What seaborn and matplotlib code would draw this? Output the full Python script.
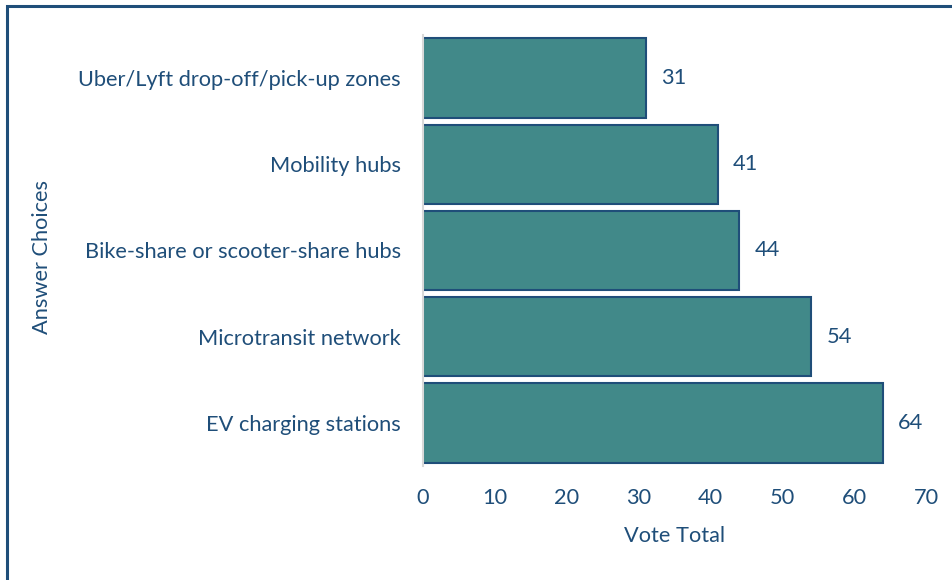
import pandas as pd
import matplotlib.pyplot as plt
import matplotlib.patches as mpatches
import seaborn as sns

# -- data --
choices = [
    'Uber/Lyft drop-off/pick-up zones',
    'Mobility hubs',
    'Bike-share or scooter-share hubs',
    'Microtransit network',
    'EV charging stations',
]
votes = [31, 41, 44, 54, 64]
x_ticks = [0, 10, 20, 30, 40, 50, 60, 70]

df = pd.DataFrame({'choice': choices, 'votes': votes})

text_col = '#1F4E79'
bar_col = '#418989'
fs = 15.7

sns.set_style('white')
plt.rcParams['font.family'] = ['Lato', 'DejaVu Sans']

fig = plt.figure(figsize=(9.52, 5.8), dpi=100)
ax = fig.add_axes([0.4443, 0.1966, 0.5284, 0.7431])

sns.barplot(data=df, x='votes', y='choice', order=choices, color=bar_col,
            saturation=1, width=0.92, edgecolor=text_col, linewidth=1.5, ax=ax)

ax.bar_label(ax.containers[0], padding=11, fontsize=fs, color=text_col)

ax.set_xlim(0, 70)
ax.set_ylim(4.5, -0.5)
ax.set_xticks(x_ticks)
ax.tick_params(axis='both', length=0, pad=16, labelsize=fs, labelcolor=text_col)

for s in ['top', 'right', 'bottom']:
    ax.spines[s].set_visible(False)
ax.spines['left'].set_color('#D9D9D9')
ax.spines['left'].set_linewidth(1.5)

ax.set_xlabel('Vote Total', fontsize=fs, color=text_col, labelpad=13)
ax.set_ylabel('Answer Choices', fontsize=fs, color=text_col)
ax.yaxis.set_label_coords(-0.737, 0.485)

# frame on the top and left edges of the figure
fig.patches.append(mpatches.Rectangle((7 / 952, -0.1), 1.2, 1.1 - 6 / 580,
                                      transform=fig.transFigure, fill=False,
                                      edgecolor=text_col, linewidth=2.2))

plt.savefig('out.png', dpi=100)
